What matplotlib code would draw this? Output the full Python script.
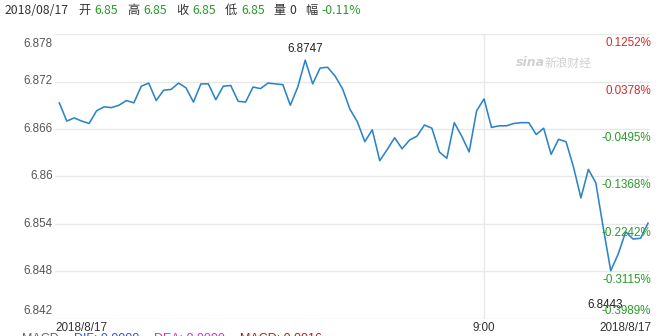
import matplotlib
matplotlib.use("Agg")
import matplotlib.pyplot as plt
import matplotlib.transforms as mtransforms

# intraday quotes, 2018/08/17
prices = [6.8693, 6.8670, 6.8674, 6.8670, 6.8667, 6.8683, 6.8688, 6.8687, 6.8690, 6.8696,
          6.8693, 6.8714, 6.8718, 6.8696, 6.8709, 6.8710, 6.8718, 6.8712, 6.8694, 6.8717,
          6.8717, 6.8697, 6.8714, 6.8715, 6.8695, 6.8694, 6.8713, 6.8711, 6.8718, 6.8717,
          6.8716, 6.8690, 6.8713, 6.8747, 6.8717, 6.8737, 6.8738, 6.8727, 6.8711, 6.8685,
          6.8669, 6.8644, 6.8659, 6.8620, 6.8634, 6.8649, 6.8635, 6.8646, 6.8651, 6.8665,
          6.8661, 6.8631, 6.8623, 6.8668, 6.8651, 6.8631, 6.8683, 6.8698, 6.8662, 6.8664,
          6.8664, 6.8667, 6.8668, 6.8668, 6.8653, 6.8661, 6.8628, 6.8647, 6.8644, 6.8612,
          6.8573, 6.8609, 6.8592, 6.8535, 6.8481, 6.8502, 6.8530, 6.8521, 6.8522, 6.8541]

yticks = [6.878, 6.872, 6.866, 6.86, 6.854, 6.848, 6.842]
ytick_labels = ["6.878", "6.872", "6.866", "6.86", "6.854", "6.848", "6.842"]
pct_labels = ["0.1252%", "0.0378%", "-0.0495%", "-0.1368%", "-0.2242%", "-0.3115%", "-0.3989%"]

xtick_pos = [0, 57, 79]
xtick_labels = ["2018/8/17", "9:00", "2018/8/17"]

hi_idx, hi_label = 33, "6.8747"
lo_idx, lo_val, lo_label = 74, 6.8443, "6.8443"

header = [("2018/08/17", "#333333"), ("开", "#333333"), ("6.85", "#2a9a2a"),
          ("高", "#333333"), ("6.85", "#2a9a2a"), ("收", "#333333"), ("6.85", "#2a9a2a"),
          ("低", "#333333"), ("6.85", "#2a9a2a"), ("量", "#333333"), ("0", "#333333"),
          ("幅", "#333333"), ("-0.11%", "#2a9a2a")]

macd = [("MACD", "#666666"), ("DIF: 0.0000", "#3355cc"), ("DEA: 0.0000", "#cc33cc"),
        ("MACD: 0.0016", "#aa2222")]

W, H = 663, 336
fig = plt.figure(figsize=(W / 100, H / 100), dpi=100)
fig.patch.set_facecolor("white")

def fx(x):
    return x / W

def fy(y):
    return 1 - y / H

ax = fig.add_axes([fx(55), fy(319), fx(650) - fx(55), fy(34) - fy(319)])
ax.plot(range(len(prices)), prices, color="#2c84c6", lw=1.15, zorder=3)
ax.set_ylim(6.842, 6.878)
ax.set_xlim(-0.58, len(prices) - 1 + 0.27)
ax.set_yticks(yticks)
ax.set_xticks([])
ax.tick_params(left=False, labelleft=False)
ax.grid(axis="y", color="#e8e8e8", lw=1)
ax.axvline(xtick_pos[1], color="#e8e8e8", lw=1, zorder=1)
for s in ax.spines.values():
    s.set_visible(False)

lab_font = dict(family="Liberation Sans", fontsize=8.4)
blend_l = mtransforms.blended_transform_factory(ax.transAxes, ax.transData)
n = len(yticks)
for i, (v, lab, pl) in enumerate(zip(yticks, ytick_labels, pct_labels)):
    if i == 0:
        va, dy = "top", -4
    elif i == n - 1:
        va, dy = "bottom", 2
    else:
        va, dy = "center", 0
    tr = mtransforms.offset_copy(blend_l, fig=fig, x=-2, y=dy, units="dots")
    ax.text(0, v, lab, transform=tr, ha="right", va=va, color="#555555", **lab_font)
    if i == n - 1:
        va2, dy2 = "bottom", 2
    else:
        va2, dy2 = "top", -3
    col = "#d42a2a" if not pl.startswith("-") else "#2a9a2a"
    tr2 = mtransforms.offset_copy(blend_l, fig=fig, x=1, y=dy2, units="dots")
    ax.text(1, v, pl, transform=tr2, ha="right", va=va2, color=col, zorder=5, **lab_font)

# x labels
blend_b = mtransforms.blended_transform_factory(ax.transData, ax.transAxes)
for pos, lab in zip(xtick_pos, xtick_labels):
    if pos == xtick_pos[0]:
        ax.text(0, 0, lab, transform=mtransforms.offset_copy(ax.transAxes, fig=fig, y=-3, units="dots"),
                ha="left", va="top", color="#333333", **lab_font)
    elif pos == xtick_pos[-1]:
        ax.text(1, 0, lab, transform=mtransforms.offset_copy(ax.transAxes, fig=fig, x=1, y=-3, units="dots"),
                ha="right", va="top", color="#333333", **lab_font)
    else:
        tr = mtransforms.offset_copy(blend_b, fig=fig, y=-3, units="dots")
        ax.text(pos, 0, lab, transform=tr, ha="center", va="top", color="#333333", **lab_font)

# high / low annotations
ax.annotate(hi_label, (hi_idx, prices[hi_idx]), xytext=(0, 5), textcoords="offset pixels",
            ha="center", va="bottom", color="#222222", **lab_font)
ax.annotate(lo_label, (lo_idx, lo_val), xytext=(-6, -4), textcoords="offset pixels",
            ha="center", va="center", color="#222222", zorder=4, **lab_font)

# watermark
fig.text(fx(516), fy(63), "sina", fontsize=9, style="italic", weight="bold",
         color="#d0d0d0", ha="left", va="center", family="DejaVu Sans")
fig.text(fx(545), fy(63), "新浪财经", fontsize=8.5, style="italic", color="#d0d0d0",
         ha="left", va="center", family=["Noto Sans CJK SC", "DejaVu Sans"])

# header line
fig.canvas.draw()
renderer = fig.canvas.get_renderer()
x = 5
for txt, col in header:
    t = fig.text(fx(x), fy(10.5), txt, color=col, fontsize=8.8, ha="left", va="center",
                 family=["Noto Sans CJK SC", "DejaVu Sans"])
    bb = t.get_window_extent(renderer)
    is_label = txt in ("开", "高", "收", "低", "量", "幅")
    x = bb.x1 + (4 if is_label else 9)

# MACD line at the bottom, cut off by the frame edge like in the original
x = 22
for txt, col in macd:
    t = fig.text(fx(x), fy(332.5), txt, color=col, fontsize=9, ha="left", va="top",
                 family="Liberation Sans")
    bb = t.get_window_extent(renderer)
    x = bb.x1 + 15

fig.savefig("out.png", dpi=100, facecolor="white")
